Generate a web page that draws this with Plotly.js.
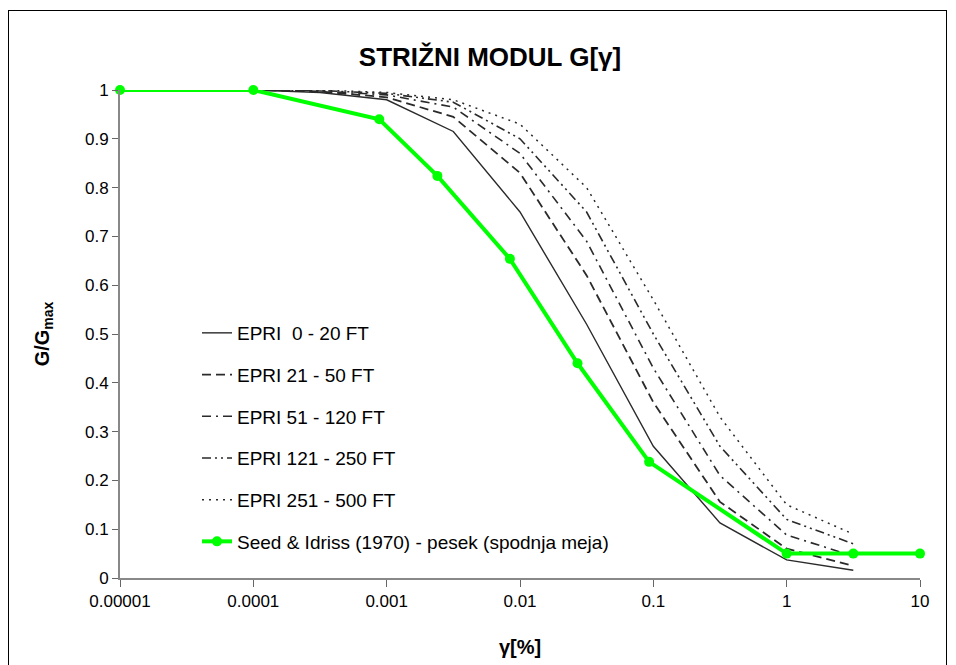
<!DOCTYPE html>
<html>
<head>
<meta charset="utf-8">
<script src="https://cdn.plot.ly/plotly-3.0.1.min.js"></script>
<style>
  html, body { margin: 0; padding: 0; background: #fff; }
  #wrap { position: relative; width: 956px; height: 665px; overflow: hidden; }
  #chart { width: 956px; height: 665px; }
  #frame { position: absolute; left: 8px; top: 10px; width: 939px; height: 720px;
           border: 1px solid #000; pointer-events: none; box-sizing: border-box; }
</style>
</head>
<body>
<div id="wrap">
  <div id="chart"></div>
  <div id="frame"></div>
</div>
<script>
// ---- data ----
const strainEPRI = [0.0001, 0.000316, 0.001, 0.00316, 0.01, 0.0316, 0.1, 0.316, 1, 3.16];
const epri_0_20    = [1.0, 0.995, 0.98, 0.915, 0.75, 0.52, 0.27, 0.113, 0.037, 0.016];
const epri_21_50   = [1.0, 0.997, 0.985, 0.945, 0.83, 0.62, 0.36, 0.156, 0.06, 0.025];
const epri_51_120  = [1.0, 0.998, 0.99, 0.965, 0.87, 0.69, 0.43, 0.21, 0.088, 0.045];
const epri_121_250 = [1.0, 0.999, 0.993, 0.975, 0.90, 0.75, 0.50, 0.27, 0.12, 0.07];
const epri_251_500 = [1.0, 1.0, 0.995, 0.98, 0.93, 0.80, 0.57, 0.33, 0.15, 0.09];

const strainSeed = [0.00001, 0.0001, 0.00088, 0.0024, 0.0084, 0.027, 0.093, 1, 3.16, 10];
const seedIdriss = [1.0, 1.0, 0.94, 0.824, 0.654, 0.44, 0.238, 0.05, 0.05, 0.05];

const seriesNames = ['EPRI  0 - 20 FT', 'EPRI 21 - 50 FT', 'EPRI 51 - 120 FT',
                     'EPRI 121 - 250 FT', 'EPRI 251 - 500 FT',
                     'Seed & Idriss (1970) - pesek (spodnja meja)'];

const xTickVals = [0.00001, 0.0001, 0.001, 0.01, 0.1, 1, 10];
const xTickText = ['0.00001', '0.0001', '0.001', '0.01', '0.1', '1', '10'];
const yTickVals = [0, 0.1, 0.2, 0.3, 0.4, 0.5, 0.6, 0.7, 0.8, 0.9, 1];
const yTickText = ['0', '0.1', '0.2', '0.3', '0.4', '0.5', '0.6', '0.7', '0.8', '0.9', '1'];

// ---- traces ----
const epriSets = [epri_0_20, epri_21_50, epri_51_120, epri_121_250, epri_251_500];
const epriStyles = [
  {dash: 'solid', width: 1.4},
  {dash: '9px,5px', width: 1.8},
  {dash: '9px,5px,2px,5px', width: 1.6},
  {dash: '9px,4px,2px,4px,2px,4px', width: 1.6},
  {dash: '2px,5px', width: 1.5}
];
const traces = epriSets.map((ys, i) => ({
  x: strainEPRI, y: ys, type: 'scatter', mode: 'lines',
  name: seriesNames[i], legendgroup: 'g' + i,
  line: {color: '#2a2a2a', width: epriStyles[i].width, dash: epriStyles[i].dash}
}));
traces.push({
  x: strainSeed, y: seedIdriss, type: 'scatter', mode: 'lines+markers',
  name: seriesNames[5], legendgroup: 'g5', cliponaxis: false,
  line: {color: '#00ff00', width: 4},
  marker: {color: '#00ff00', size: 10, symbol: 'circle'}
});

const fam = 'Arial, "Liberation Sans", sans-serif';
const tickFont = {family: fam, size: 17, color: '#000'};
const legendFont = {family: fam, size: 19, color: '#000'};
const axTitleFont = {family: fam, size: 20, color: '#000'};

const layout = {
  width: 956, height: 665,
  margin: {l: 120, r: 36, t: 90, b: 87},
  paper_bgcolor: '#fff', plot_bgcolor: '#fff',
  font: tickFont,
  showlegend: true,
  title: {
    text: '<b>STRIŽNI MODUL G[γ]</b>',
    font: {family: fam, size: 26, color: '#000'},
    x: 490 / 956, xref: 'container', xanchor: 'center',
    y: 1 - 57 / 665, yref: 'container', yanchor: 'middle'
  },
  xaxis: {
    type: 'log', range: [-5, 1],
    tickvals: xTickVals, ticktext: xTickText,
    ticks: 'outside', ticklen: 7, tickcolor: '#666', tickwidth: 1,
    showline: true, linecolor: '#888', linewidth: 2,
    showgrid: false, zeroline: false,
    tickfont: tickFont,
    title: {text: '<b>γ[%]</b>', font: axTitleFont, standoff: 30}
  },
  yaxis: {
    range: [0, 1],
    tickvals: yTickVals, ticktext: yTickText,
    ticks: 'outside', ticklen: 6, tickcolor: '#666', tickwidth: 1,
    showline: true, linecolor: '#888', linewidth: 2,
    showgrid: false, zeroline: false,
    tickfont: tickFont,
    title: {text: '<b>G/G<sub>max</sub></b>', font: axTitleFont, standoff: 30}
  },
  legend: {
    x: (197 - 120) / 800, xanchor: 'left',
    y: (578 - 314) / 488, yanchor: 'top',
    bgcolor: 'rgba(255,255,255,0)', borderwidth: 0,
    font: legendFont,
    tracegroupgap: 14,
    itemwidth: 30
  }
};

Plotly.newPlot('chart', traces, layout, {displayModeBar: false, staticPlot: true});
</script>
</body>
</html>
